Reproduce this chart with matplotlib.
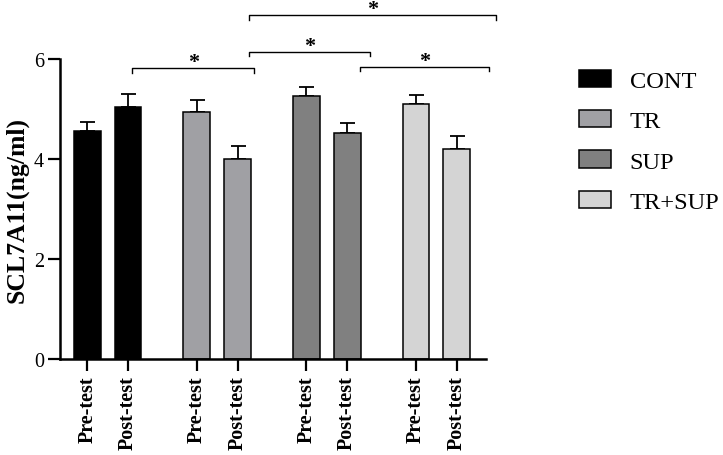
import numpy as np
import matplotlib.pyplot as plt
from matplotlib.patches import Patch

# data
groups = ['CONT', 'TR', 'SUP', 'TR+SUP']
tests = ['Pre-test', 'Post-test']
means = [4.57, 5.05, 4.94, 4.00, 5.27, 4.53, 5.10, 4.20]
errs = [0.18, 0.25, 0.25, 0.27, 0.17, 0.19, 0.19, 0.26]
colors = ['#000000', '#a0a0a4', '#808080', '#d4d4d4']
# brackets: (x left, x right, y)
brackets = [(1.11, 4.09, 5.82), (3.96, 6.94, 6.15), (3.96, 10.04, 6.88), (6.69, 9.86, 5.85)]

plt.rcParams['font.family'] = ['Liberation Serif', 'DejaVu Serif']

fig = plt.figure(figsize=(7.23, 4.56), dpi=100)
ax = fig.add_axes([60 / 723, 1 - 360 / 456, (486 - 60) / 723, 300 / 456])

step = 2.69
xs = []
for g in range(len(groups)):
    for s in range(2):
        xs.append(g * step + s)
xs = np.array(xs)
bar_colors = [colors[i // 2] for i in range(len(means))]

ax.errorbar(xs, means, yerr=[np.zeros(len(errs)), errs], fmt='none',
            ecolor='black', elinewidth=1.3, capsize=5.4, capthick=1.3, zorder=1)
ax.bar(xs, means, width=0.66, color=bar_colors, edgecolor='black', linewidth=1.1, zorder=2)

ax.set_xlim(-0.67, 9.79)
ax.set_ylim(0, 6)
ax.set_yticks([0, 2, 4, 6])
ax.set_xticks(xs)
ax.set_xticklabels(tests * 4, rotation=90, fontsize=14.5, fontweight='bold')
ax.tick_params(axis='y', labelsize=14.5, length=8.6, width=1.6, pad=3)
ax.tick_params(axis='x', length=8.6, width=1.6, pad=3)
for sp in ['top', 'right']:
    ax.spines[sp].set_visible(False)
for sp in ['left', 'bottom']:
    ax.spines[sp].set_linewidth(1.8)
ax.set_ylabel('SCL7A11(ng/ml)', fontsize=18.5, fontweight='bold', labelpad=4)

# significance brackets
for x1, x2, y in brackets:
    ax.plot([x1, x1, x2, x2], [y - 0.09, y, y, y - 0.09], color='black',
            lw=1.0, clip_on=False)
    ax.text((x1 + x2) / 2, y - 0.08, '*', ha='center', va='bottom',
            fontsize=16, fontweight='bold')

handles = [Patch(facecolor=c, edgecolor='black', linewidth=1.1) for c in colors]
fig.legend(handles, groups, loc='upper left', bbox_to_anchor=(579 / 723, 1 - 71 / 456),
           frameon=False, fontsize=17.6, handlelength=1.3, handleheight=0.7,
           handletextpad=0.78, labelspacing=0.74, borderpad=0, borderaxespad=0)

fig.savefig('out.png', dpi=100)
